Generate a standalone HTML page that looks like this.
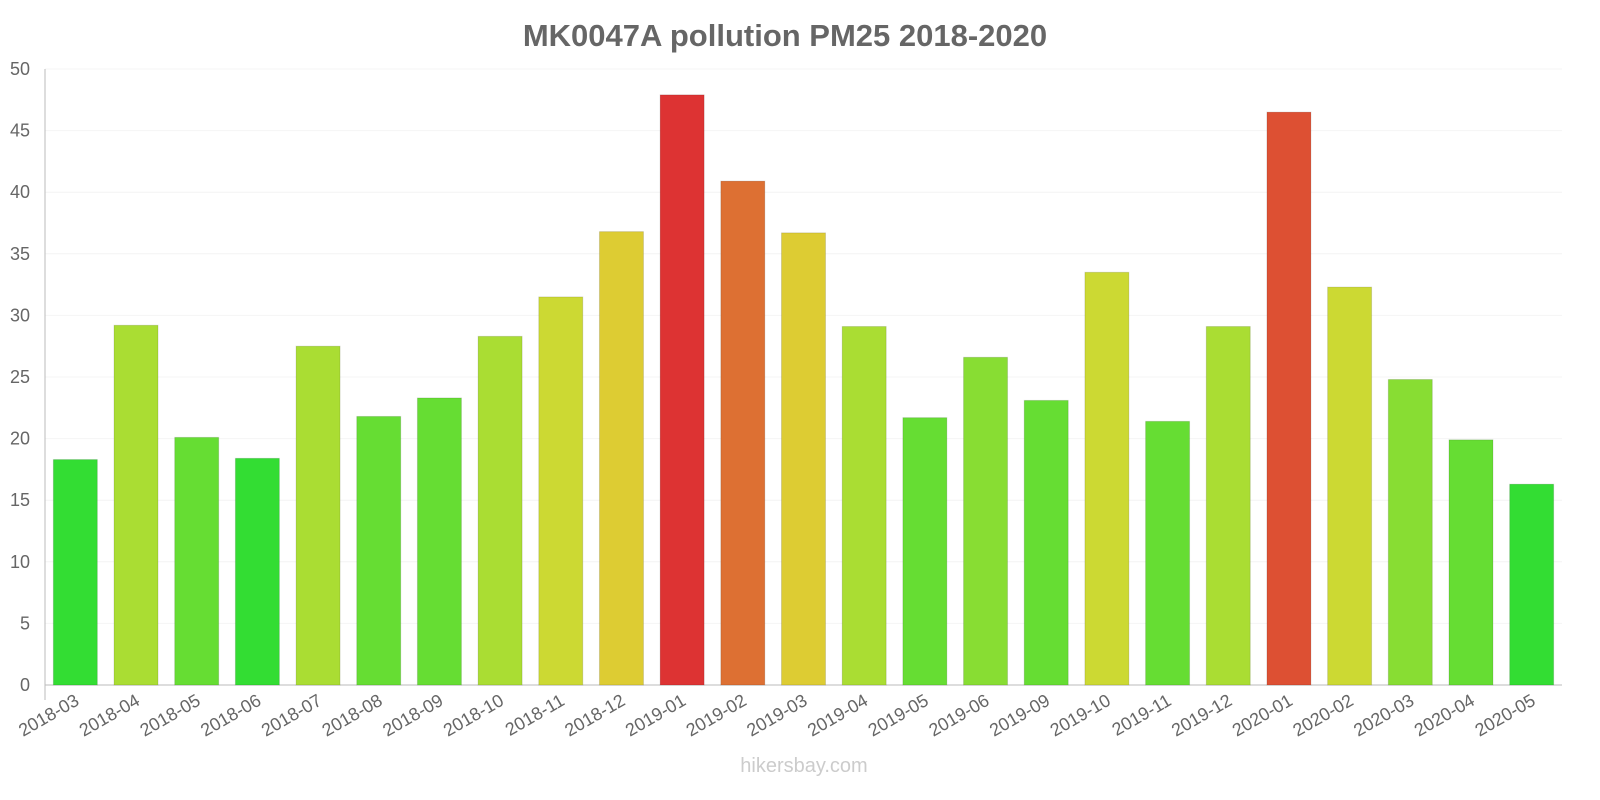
<!DOCTYPE html>
<html><head><meta charset="utf-8"><style>
html,body{margin:0;padding:0;background:#fff;width:1600px;height:800px;overflow:hidden}
svg{display:block}
text{font-family:"Liberation Sans",sans-serif}
</style></head><body>
<svg id="chart" width="1600" height="800" xmlns="http://www.w3.org/2000/svg">
<text x="785" y="46" text-anchor="middle" font-size="31" font-weight="bold" fill="#666">MK0047A pollution PM25 2018-2020</text>
<text x="804" y="772" text-anchor="middle" font-size="20" fill="#ccc">hikersbay.com</text>
<g id="grid"></g><g id="bars"></g><g id="axes"></g>
</svg>
<script>
const categories=["2018-03","2018-04","2018-05","2018-06","2018-07","2018-08","2018-09","2018-10","2018-11","2018-12","2019-01","2019-02","2019-03","2019-04","2019-05","2019-06","2019-09","2019-10","2019-11","2019-12","2020-01","2020-02","2020-03","2020-04","2020-05"];
const values=[18.3,29.2,20.1,18.4,27.5,21.8,23.3,28.3,31.5,36.8,47.9,40.9,36.7,29.1,21.7,26.6,23.1,33.5,21.4,29.1,46.5,32.3,24.8,19.9,16.3];
const yTicks=[0,5,10,15,20,25,30,35,40,45,50];
const NS="http://www.w3.org/2000/svg";
const X0=45,X1=1562,Y0=685,Y1=69,YMAX=50;
const slot=(X1-X0)/categories.length;
const y=v=>Y0-(v/YMAX)*(Y0-Y1);
const xc=i=>X0+slot*(i+0.5);
function color(v){
 if(v<19)return"#33dd33";if(v<24)return"#66dd33";if(v<27)return"#88dd33";if(v<31)return"#aadd33";
 if(v<35)return"#ccd933";if(v<39)return"#ddcc33";if(v<44)return"#dd7033";if(v<47)return"#dd5033";return"#dd3333";}
function mk(t,a,p){const e=document.createElementNS(NS,t);for(const k in a)e.setAttribute(k,a[k]);p.appendChild(e);return e;}
const grid=document.getElementById('grid'),bars=document.getElementById('bars'),axes=document.getElementById('axes');
yTicks.forEach(t=>{
 const l=mk('line',{x1:X0,x2:X1,y1:y(t),y2:y(t),stroke:t===0?'#bbb':'#f4f4f4','stroke-width':1},grid);
 
 
 const tx=mk('text',{x:X0-15,y:y(t)+6,'text-anchor':'end','font-size':18,fill:'#666'},axes);
 tx.textContent=t;
 
 
});
mk('line',{x1:X0,x2:X0,y1:Y1,y2:Y0+15,stroke:'#bbb'},axes);
categories.forEach((c,i)=>{
 const v=values[i],w=44;
 const r=mk('rect',{x:xc(i)-w/2,y:y(v),width:w,height:Y0-y(v),fill:color(v),stroke:'rgba(0,0,0,0.12)'},bars);
 
 
 const cx=xc(i)+5,cy=704;
 const tx=mk('text',{x:cx,y:cy,'text-anchor':'end','font-size':18,fill:'#666',transform:`rotate(-30 ${cx} ${cy})`},axes);
 tx.textContent=c;
 
 
});
</script>
</body></html>
